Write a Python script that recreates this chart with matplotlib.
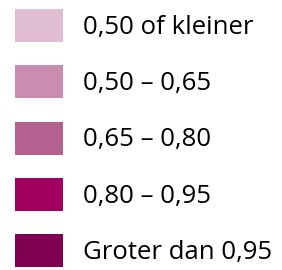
import matplotlib
matplotlib.use("Agg")
import matplotlib.pyplot as plt
from matplotlib.patches import Patch

labels = ["0,50 of kleiner", "0,50 – 0,65", "0,65 – 0,80", "0,80 – 0,95", "Groter dan 0,95"]
colors = ["#e0bdd3", "#c98db0", "#b3618f", "#a0005f", "#7f0050"]

plt.rcParams['font.family'] = ['Open Sans', 'DejaVu Sans']
fig = plt.figure(figsize=(2.82, 2.70), dpi=100)
fs = 18.5
px = fs * 100 / 72
handles = [Patch(facecolor=c, edgecolor='none') for c in colors]
fig.legend(handles, labels, loc='upper left', bbox_to_anchor=(15/282, 1 - 9/270),
           frameon=False, fontsize=fs, handlelength=48/px,
           handleheight=34/px * 34/28, labelspacing=0.90,
           handletextpad=20/px, borderpad=0, borderaxespad=0)
fig.savefig("out.png", dpi=100)
